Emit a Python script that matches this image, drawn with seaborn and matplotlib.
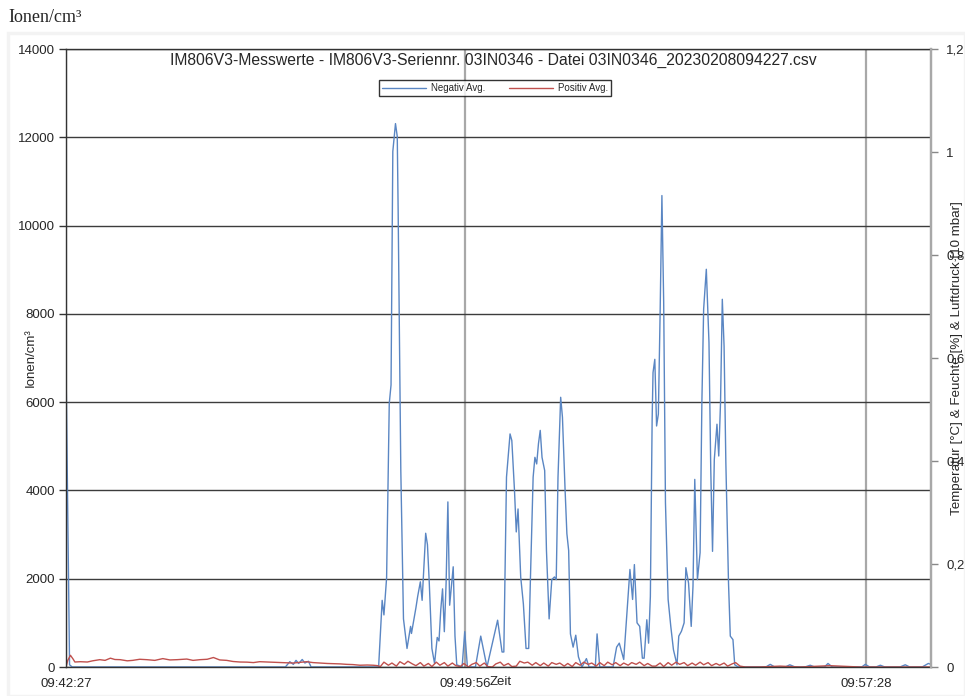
import matplotlib
matplotlib.use("Agg")
import matplotlib.pyplot as plt
import numpy as np
import pandas as pd
import seaborn as sns
from matplotlib.patches import Rectangle

# ---- data: seconds after 09:42:27 and ion counts per cm³ ----
tick_seconds = [0, 449, 901]
tick_labels = ["09:42:27", "09:49:56", "09:57:28"]

neg_t = [0, 4, 7, 247, 252, 256, 259, 262, 266, 269, 273, 276, 352,
         356, 358, 361, 364, 366, 368, 371, 373, 374, 377, 380, 384, 388, 389,
         394, 396, 399, 401, 405, 407, 409, 412, 415, 418, 420, 422, 424, 426,
         428, 430, 432, 436, 438, 440, 446, 449, 452, 461, 467, 474, 486, 491,
         493, 496, 500, 502, 505, 507, 509, 512, 515, 518, 521, 523, 526, 528,
         530, 532, 534, 536, 539, 541, 544, 547, 550, 552, 554, 557, 559, 562,
         564, 566, 568, 571, 574, 577, 581, 586, 589, 596, 598, 601, 616, 620,
         623, 628, 635, 638, 640, 643, 646, 649, 651, 654, 656, 658, 660, 661,
         663, 665, 667, 669, 671, 673, 675, 677, 678, 681, 684, 688, 690, 693,
         696, 698, 701, 704, 706, 708, 711, 714, 716, 718, 721, 724, 726, 728,
         730, 733, 735, 737, 739, 741, 743, 746, 748, 751, 753, 757, 788, 793,
         798, 810, 815, 821, 832, 838, 843, 854, 858, 863, 896, 900, 905, 912,
         917, 922, 939, 945, 950, 964, 971, 974]
neg_v = [6850, 50, 0, 0, 120, 60, 150, 80, 170, 90, 130, 0, 0,
         1510, 1180, 2020, 5970, 6390, 11680, 12310, 12020, 10340, 4450, 1090,
         420, 920, 760, 1340, 1600, 1930, 1510, 3030, 2770, 1930, 420, 80, 670,
         590, 1300, 1770, 800, 1900, 3740, 1400, 2270, 700, 50, 0, 800, 0, 0,
         700, 0, 1060, 340, 340, 4300, 5280, 5130, 4000, 3060, 3580, 2040, 1430,
         420, 420, 2040, 4300, 4750, 4600, 5060, 5360, 4750, 4450, 2640, 1090,
         1980, 2040, 1980, 4300, 6110, 5660, 4000, 3020, 2640, 750, 450, 720,
         230, 0, 190, 0, 0, 750, 0, 0, 450, 540, 170, 2210, 1530, 2320, 1000,
         920, 200, 200, 1070, 540, 1600, 5610, 6670, 6970, 5460, 5730, 8030,
         10680, 8260, 3720, 2210, 1530, 920, 390, 50, 700, 810, 1000, 2250, 1900,
         920, 1830, 4250, 1980, 2590, 5990, 8110, 9010, 7350, 4480, 2620, 4700,
         5500, 4780, 5990, 8330, 7270, 4630, 1900, 700, 620, 50, 0, 0, 60, 0, 0,
         50, 0, 0, 40, 0, 0, 80, 0, 0, 60, 0, 0, 40, 0, 0, 50, 0, 0, 80, 60]

pos_t = [0, 2, 5, 8, 10, 16, 24, 30, 38, 44, 50, 55, 61, 69, 75, 83, 91, 100,
         109, 117, 125, 132, 136, 143, 151, 159, 166, 173, 181, 188, 196, 204,
         211, 218, 226, 233, 241, 249, 256, 264, 271, 278, 286, 294, 301, 309,
         316, 323, 331, 339, 346, 351,
         354, 358, 363, 367, 372, 376, 381, 385, 390, 394, 399, 403, 408, 412,
         417, 421, 426, 430, 435, 439, 444, 448, 453, 457, 462, 466, 471, 475,
         480, 484, 489, 493, 498, 502, 507, 511, 516, 520, 525, 529, 534, 538,
         543, 547, 552, 556, 561, 565, 570, 574, 579, 583, 588, 592, 597, 601,
         606, 610, 615, 619, 624, 628, 633, 637, 642, 646, 651, 655, 660, 664,
         669, 673, 678, 682, 687, 691, 696, 700, 705, 709, 714, 718, 723, 727,
         732, 736, 741, 745, 750, 754, 759,
         765, 781, 804, 827, 860, 894, 974]
pos_v = [0, 150, 265, 180, 113, 120, 113, 140, 166, 150, 200, 170, 166, 140,
         150, 175, 166, 150, 190, 160, 166, 175, 180, 150, 166, 175, 215, 160,
         150, 125, 113, 110, 100, 120, 113, 105, 100, 95, 90, 105, 120, 100, 90,
         80, 75, 70, 60, 55, 40, 45, 40, 30,
         10, 110, 40, 90, 20, 120, 60, 130, 70, 30, 100, 20, 80, 10, 110, 40,
         100, 20, 90, 30, 10, 80, 0, 60, 100, 20, 90, 10, 0, 70, 110, 30, 80,
         10, 20, 130, 90, 110, 40, 100, 30, 90, 20, 100, 60, 90, 20, 80, 10,
         100, 40, 110, 60, 90, 20, 100, 30, 110, 50, 100, 30, 90, 40, 100, 60,
         110, 30, 80, 20, 20, 90, 10, 100, 40, 110, 60, 100, 30, 90, 40, 110,
         50, 100, 30, 80, 40, 90, 20, 70, 100, 20,
         0, 0, 20, 0, 30, 0, 0]

left_ticks = [0, 2000, 4000, 6000, 8000, 10000, 12000, 14000]
right_ticks = [0, 0.2, 0.4, 0.6, 0.8, 1.0, 1.2]
right_tick_labels = ["0", "0,2", "0,4", "0,6", "0,8", "1", "1,2"]

series_names = ["Negativ Avg.", "Positiv Avg."]
series_colors = ["#5a86c3", "#c0504d"]

title = ("IM806V3-Messwerte - IM806V3-Seriennr. 03IN0346 - "
         "Datei 03IN0346_20230208094227.csv")

df = pd.concat([
    pd.DataFrame({"t": neg_t, "v": neg_v, "Serie": series_names[0]}),
    pd.DataFrame({"t": pos_t, "v": pos_v, "Serie": series_names[1]}),
], ignore_index=True)

# ---- styling ----
sns.set_style("white")
plt.rcParams["font.family"] = ["Liberation Sans", "DejaVu Sans"]

W, H = 965, 696
fig = plt.figure(figsize=(W / 100, H / 100), dpi=100)
fig.patch.set_facecolor("white")

# faint frame of the chart panel
fig.patches.append(Rectangle((8 / W, 0), 1 - 8 / W, 1 - 33 / H,
                             transform=fig.transFigure, fill=False,
                             edgecolor="#f3f3f3", lw=2.5, zorder=0))

fig.text(8 / W, 1 - 18 / H, "Ionen/cm³", family=["Liberation Serif", "DejaVu Serif"],
         fontsize=13, va="center", ha="left")

ax = fig.add_axes([66 / W, 1 - 667 / H, 865 / W, 618 / H])
sns.lineplot(data=df, x="t", y="v", hue="Serie", palette=series_colors,
             hue_order=series_names, estimator=None, sort=False, lw=1.0, ax=ax)

ax.set_xlim(0, 974)
ax.set_ylim(0, 14000)
ax.set_yticks(left_ticks)
ax.set_yticklabels([str(v) for v in left_ticks])
ax.set_xticks(tick_seconds)
ax.set_xticklabels(tick_labels)
ax.grid(axis="y", color="#3c3c3c", lw=1.0)
ax.grid(axis="x", color="#a8a8a8", lw=1.6)
ax.set_axisbelow(True)
for side in ["left", "bottom", "top"]:
    ax.spines[side].set_color("#333333")
    ax.spines[side].set_linewidth(1.0)
ax.spines["right"].set_color("#a8a8a8")
ax.spines["right"].set_linewidth(1.6)
ax.tick_params(axis="both", direction="out", length=5, width=1,
               color="#333333", labelsize=9.5, pad=3)

ax.set_xlabel("Zeit", fontsize=9.5)
ax.xaxis.set_label_coords(0.503, -0.014)
ax.set_ylabel("Ionen/cm³", fontsize=9.5)
ax.yaxis.set_label_coords(-0.034, 0.5)

ax.text(0.494, 0.982, title, transform=ax.transAxes, ha="center", va="center",
        fontsize=11.3)

leg = ax.legend(loc="center", bbox_to_anchor=(0.496, 0.937), ncol=2,
                fontsize=7, frameon=True, fancybox=False, edgecolor="black",
                handlelength=4.5, columnspacing=2.5, borderpad=0.35,
                handletextpad=0.5)
leg.get_frame().set_linewidth(1.0)

ax2 = ax.twinx()
ax2.set_ylim(0, 1.2)
ax2.set_yticks(right_ticks)
ax2.set_yticklabels(right_tick_labels)
ax2.tick_params(axis="y", direction="out", length=5, width=1,
                color="#888888", labelsize=9.5, pad=6)
for side in ["left", "bottom", "top"]:
    ax2.spines[side].set_visible(False)
ax2.spines["right"].set_color("#a8a8a8")
ax2.spines["right"].set_linewidth(1.6)
ax2.set_ylabel("Temperatur [°C] & Feuchte [%] & Luftdruck [10 mbar]", fontsize=9.6)
ax2.yaxis.set_label_coords(1.023, 0.5)

fig.savefig("out.png", dpi=100)
